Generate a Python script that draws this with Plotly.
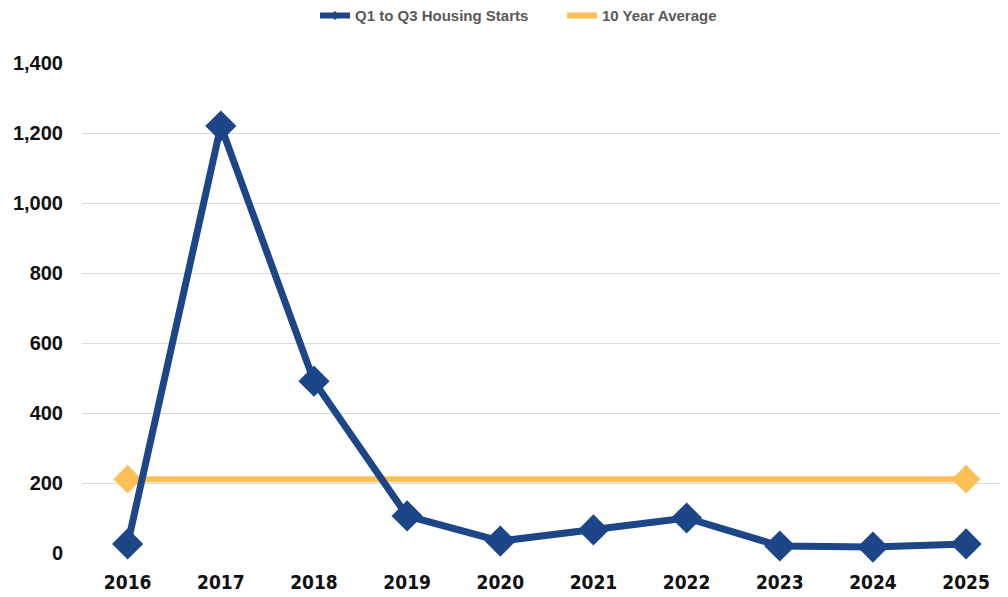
import plotly.graph_objects as go

years = ["2016", "2017", "2018", "2019", "2020", "2021", "2022", "2023", "2024", "2025"]
starts = [26, 1220, 491, 106, 34, 66, 100, 20, 17, 26]
avg_x = ["2016", "2025"]
avg_y = [211, 211]
y_ticks = [0, 200, 400, 600, 800, 1000, 1200, 1400]
y_tick_text = ["0", "200", "400", "600", "800", "1,000", "1,200", "1,400"]

blue = "#1C4687"
orange = "#FDBF57"

fig = go.Figure()
fig.add_trace(go.Scatter(
    x=avg_x, y=avg_y, mode="lines+markers", name="10 Year Average",
    line=dict(color=orange, width=6),
    marker=dict(symbol="diamond", size=22, color=orange),
    cliponaxis=False, showlegend=False,
))
fig.add_trace(go.Scatter(
    x=years, y=starts, mode="lines+markers", name="Q1 to Q3 Housing Starts",
    line=dict(color=blue, width=7),
    marker=dict(symbol="diamond", size=24, color=blue),
    cliponaxis=False, showlegend=False,
))
# legend entries
fig.add_trace(go.Scatter(
    x=[None], y=[None], mode="lines+markers", name="Q1 to Q3 Housing Starts",
    line=dict(color=blue, width=6), marker=dict(symbol="diamond", size=7, color=blue),
))
fig.add_trace(go.Scatter(
    x=[None], y=[None], mode="lines", name="10 Year Average",
    line=dict(color=orange, width=6),
))

fig.update_layout(
    width=1000, height=589,
    margin=dict(l=74, r=0, t=55, b=44, autoexpand=False),
    paper_bgcolor="white", plot_bgcolor="white",
    showlegend=True,
    legend=dict(orientation="h", x=0.2516, xanchor="left", y=1.130, yanchor="top",
                font=dict(family="Liberation Sans, Arial", size=15, color="#595959", weight="bold"),
                entrywidth=202, entrywidthmode="pixels", tracegroupgap=0),
    xaxis=dict(type="category", categoryorder="array", categoryarray=years,
               range=[-0.49, 9.45], showgrid=False, zeroline=False, showline=False,
               ticks="", ticklabelstandoff=16, automargin=False,
               tickfont=dict(family="DejaVu Sans Condensed, Liberation Sans Narrow, Liberation Sans", size=19, color="#111111", weight="bold")),
    yaxis=dict(range=[0, 1400], tickvals=y_ticks, ticktext=y_tick_text,
               showgrid=True, gridcolor="#D9D9D9", gridwidth=1, zeroline=False,
               showline=False, ticks="", ticklabelstandoff=18, automargin=False,
               tickfont=dict(family="Liberation Sans, Arial", size=20, color="#111111", weight="bold")),
)
fig.write_html("out.html")
